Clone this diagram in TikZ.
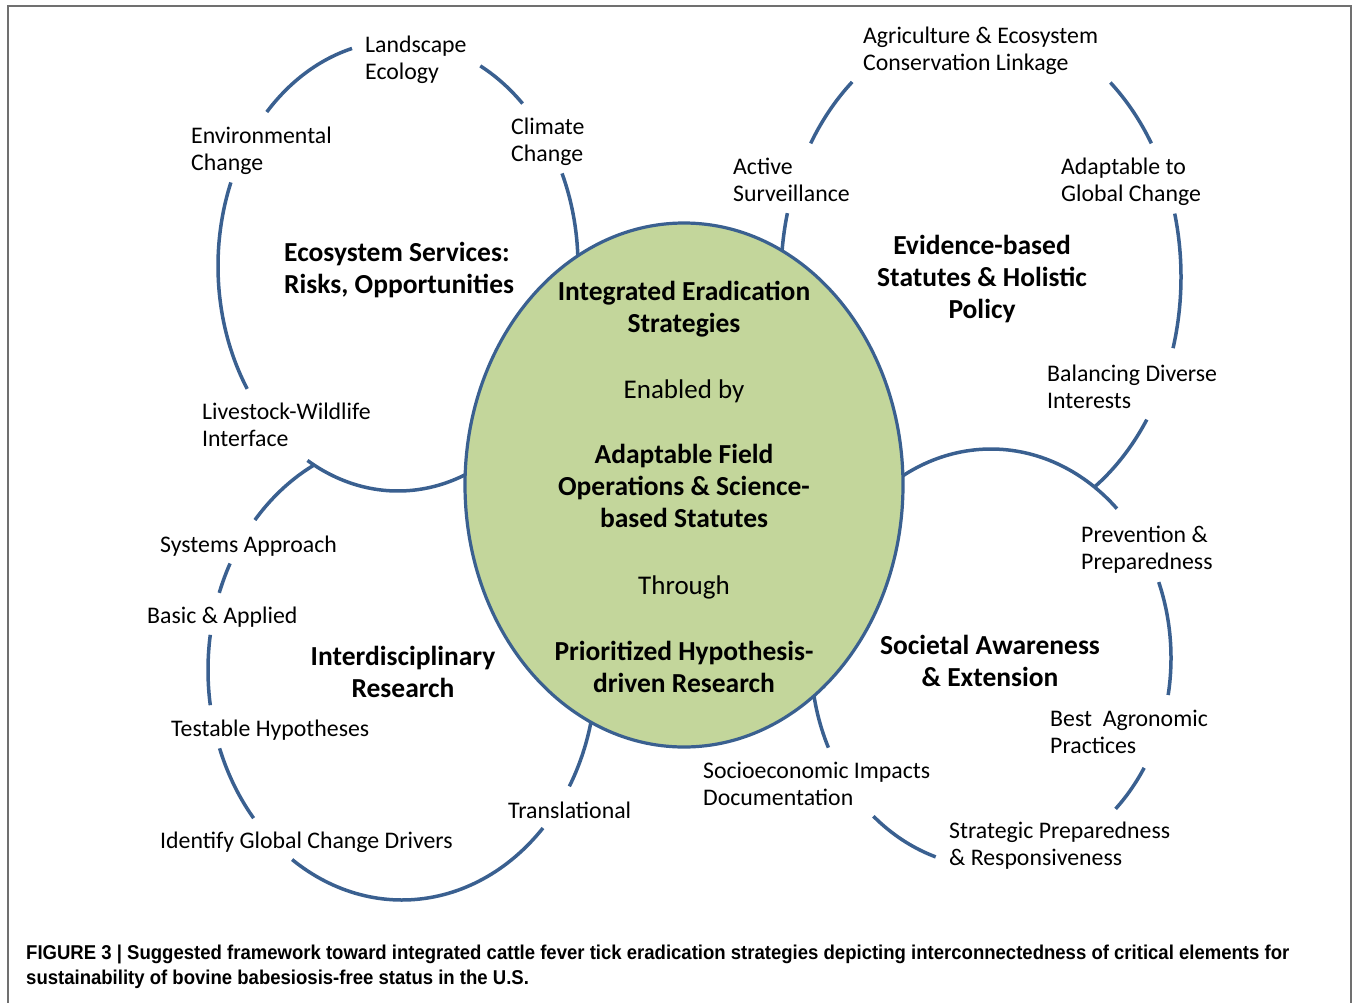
\documentclass[tikz,border=0pt]{standalone}
\usepackage{fontspec}
\setmainfont{Carlito}
\newfontfamily\capfont[FakeStretch=0.927]{Liberation Sans}
\usetikzlibrary{shapes.geometric}
\definecolor{ringblue}{HTML}{3A6090}
\definecolor{coregreen}{HTML}{C3D69B}
\definecolor{framegray}{HTML}{707070}
\newcommand\lbl[1]{\begin{tabular}[t]{@{}l@{}}#1\end{tabular}}
\newcommand\clbl[1]{\begin{tabular}[t]{@{}c@{}}#1\end{tabular}}
\newcommand\earc[6]{\draw[ring] plot[domain=#5:#6, samples=60] ({#1+#3*cos(\x)},{#2+#4*sin(\x)});}
\begin{document}
\begin{tikzpicture}[x=1pt, y=-1pt,
  ring/.style={draw=ringblue, line width=3.5pt},
  lab/.style={anchor=base west, inner sep=0pt, font=\fontsize{23.8}{27}\selectfont},
  ttl/.style={anchor=base, inner sep=0pt, font=\fontsize{27.5}{32}\selectfont\bfseries},
  mid/.style={anchor=base, inner sep=0pt, font=\fontsize{27}{32}\selectfont},
  captext/.style={anchor=base west, inner sep=0pt, font=\fontsize{20}{25}\capfont\bfseries}]
\useasboundingbox (0,0) rectangle (1356,1002);
\clip (0,0) rectangle (1356,1002);
\draw[framegray, line width=1.3pt] (8,6) rectangle (1351,1020);
% Ecosystem services ring
\earc{398}{266}{180}{225}{-136.8}{-104.8}
\earc{398}{266}{180}{225}{-62.8}{-46.2}
\earc{398}{266}{180}{225}{-24.3}{5}
\earc{398}{266}{180}{225}{146.9}{201.8}
\earc{398}{266}{180}{225}{60}{120.2}
% Interdisciplinary research ring
\earc{402}{670}{194}{230}{-139.3}{-117.0}
\earc{402}{670}{194}{230}{-160.4}{-152.4}
\earc{402}{670}{194}{230}{171.2}{188.8}
\earc{402}{670}{194}{230}{139.9}{160.1}
\earc{402}{670}{194}{230}{43.4}{124.5}
\earc{402}{670}{194}{230}{5}{30.4}
% Evidence-based ring
\earc{981}{277}{200}{255}{-148.4}{-130.1}
\earc{981}{277}{200}{255}{-49.7}{-31.6}
\earc{981}{277}{200}{255}{-14.4}{16.2}
\earc{981}{277}{200}{255}{34.0}{55.6}
\earc{981}{277}{200}{255}{180}{194.5}
% Societal awareness ring
\earc{991}{658}{180}{209}{-125}{-45.6}
\earc{991}{658}{180}{209}{-21.3}{10.2}
\earc{991}{658}{180}{209}{31.7}{46.2}
\earc{991}{658}{180}{209}{107.9}{130.8}
\earc{991}{658}{180}{209}{154.6}{178}
% core
\node[ellipse, draw=ringblue, line width=3.2pt, fill=coregreen, minimum width=438pt, minimum height=524pt, inner sep=0pt] (core) at (684,485) {};
\node[ttl] (ies) at (684,300) {\clbl{Integrated Eradication\\Strategies}};
\node[mid] (enabled) at (684,398) {Enabled by};
\node[ttl] (afo) at (684,463) {\clbl{Adaptable Field\\Operations \& Science-\\based Statutes}};
\node[mid] (through) at (684,594) {Through};
\node[ttl] (phd) at (684,660) {\clbl{Prioritized Hypothesis-\\driven Research}};
% labels
\node[lab] (landscape) at (365,52) {\lbl{Landscape\\Ecology}};
\node[lab] (envchange) at (191,143) {\lbl{Environmental\\Change}};
\node[lab] (climate) at (511,134) {\lbl{Climate\\Change}};
\node[lab] (livestock) at (202,419) {\lbl{Livestock-Wildlife\\Interface}};
\node[ttl, anchor=base west] (eco) at (284,261) {\lbl{Ecosystem Services:\\Risks, Opportunities}};
\node[lab] (agri) at (863,43) {\lbl{Agriculture \& Ecosystem\\Conservation Linkage}};
\node[lab] (active) at (733,174) {\lbl{Active\\Surveillance}};
\node[lab] (adapt) at (1061,174) {\lbl{Adaptable to\\Global Change}};
\node[ttl] (evid) at (982,254) {\clbl{Evidence-based\\Statutes \& Holistic\\Policy}};
\node[lab] (balance) at (1047,381) {\lbl{Balancing Diverse\\Interests}};
\node[lab] (systems) at (160,552) {Systems Approach};
\node[lab] (basic) at (147,623) {Basic \& Applied};
\node[ttl] (inter) at (403,665) {\clbl{Interdisciplinary\\Research}};
\node[lab] (testable) at (171,736) {Testable Hypotheses};
\node[lab] (identify) at (160,848) {Identify Global Change Drivers};
\node[lab] (transl) at (508,818) {Translational};
\node[lab] (prevent) at (1081,542) {\lbl{Prevention \&\\Preparedness}};
\node[ttl] (soc) at (990,654) {\clbl{Societal Awareness\\\& Extension}};
\node[lab] (best) at (1050,726) {\lbl{Best\ \ Agronomic\\Practices}};
\node[lab] (socio) at (703,778) {\lbl{Socioeconomic Impacts\\Documentation}};
\node[lab] (strat) at (949,838) {\lbl{Strategic Preparedness\\\& Responsiveness}};
% caption
\node[captext] (cap1) at (26,959) {FIGURE 3 | Suggested framework toward integrated cattle fever tick eradication strategies depicting interconnectedness of critical elements for};
\node[captext] (cap2) at (26,984) {sustainability of bovine babesiosis-free status in the U.S.};
\end{tikzpicture}
\end{document}
